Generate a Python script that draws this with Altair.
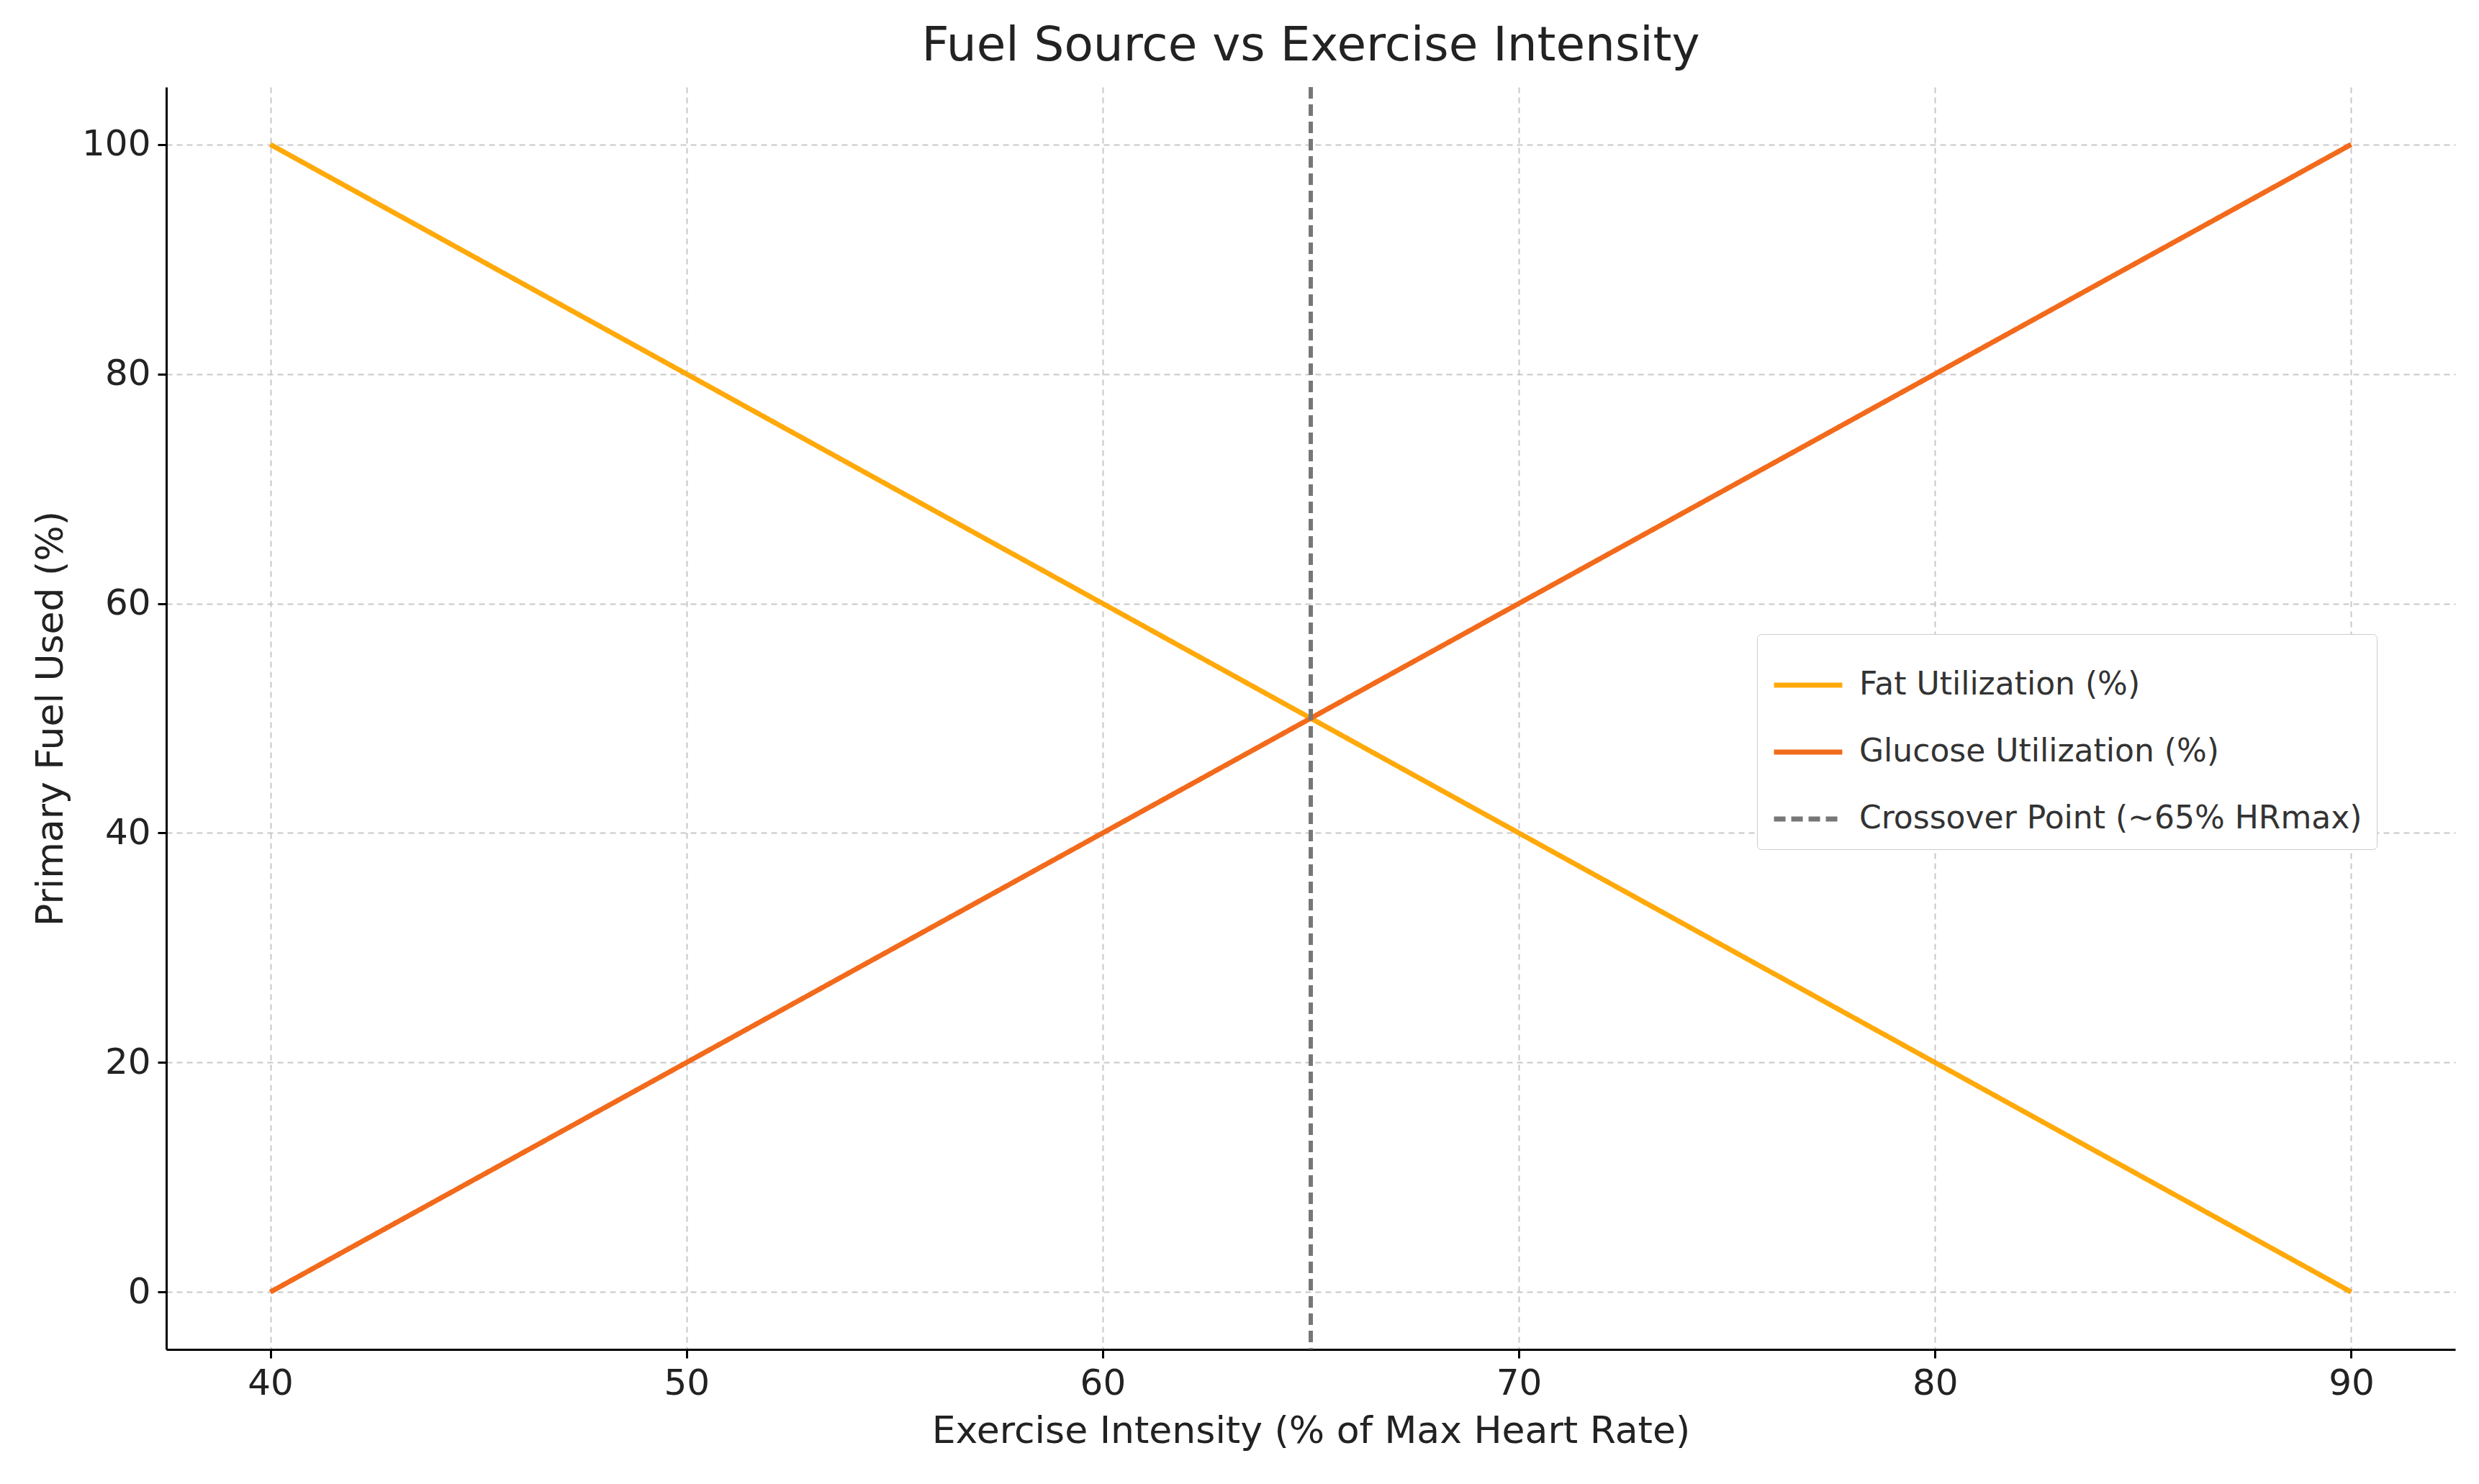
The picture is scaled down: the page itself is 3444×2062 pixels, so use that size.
import altair as alt
import pandas as pd

intensity = [40, 50, 60, 70, 80, 90]
fat = [100, 80, 60, 40, 20, 0]
glucose = [0, 20, 40, 60, 80, 100]
crossover = 65
names = ["Fat Utilization (%)", "Glucose Utilization (%)", "Crossover Point (~65% HRmax)"]
colors = ["#FFA90A", "#F26A1B", "#777777"]

rows = []
for x, f, g in zip(intensity, fat, glucose):
    rows.append({"x": x, "y": f, "series": names[0]})
    rows.append({"x": x, "y": g, "series": names[1]})
df = pd.DataFrame(rows)
rule_df = pd.DataFrame({"x": [crossover], "series": [names[2]]})

color = alt.Color("series:N", scale=alt.Scale(domain=names, range=colors), title=None,
                  legend=alt.Legend(orient="none", legendX=2210, legendY=760, symbolStrokeWidth=7,
                                    symbolSize=9000, symbolType="stroke", labelFontSize=44,
                                    labelFont="DejaVu Sans", labelColor="#333", padding=20,
                                    strokeColor="#ccc", fillColor="white", cornerRadius=6,
                                    rowPadding=20, labelLimit=1200, labelOffset=20))
dash = alt.StrokeDash("series:N", scale=alt.Scale(domain=names, range=[[1, 0], [1, 0], [16, 8]]), title=None)

xs = alt.X("x:Q", scale=alt.Scale(domain=[37.5, 92.5], nice=False, zero=False),
           axis=alt.Axis(values=[40, 50, 60, 70, 80, 90], format="d",
                         title="Exercise Intensity (% of Max Heart Rate)"))
ys = alt.Y("y:Q", scale=alt.Scale(domain=[-5, 105], nice=False),
           axis=alt.Axis(values=[0, 20, 40, 60, 80, 100], format="d", title="Primary Fuel Used (%)"))

lines = alt.Chart(df).mark_line(strokeWidth=7).encode(x=xs, y=ys, color=color, strokeDash=dash)
rule = alt.Chart(rule_df).mark_rule(strokeWidth=6).encode(x="x:Q", color=color, strokeDash=dash)

chart = alt.layer(lines, rule).properties(
    width=3180, height=1754,
    title=alt.TitleParams("Fuel Source vs Exercise Intensity", fontSize=66, font="DejaVu Sans",
                          fontWeight="normal", color="#222", offset=20),
    autosize=alt.AutoSizeParams(type="none"),
    padding={"left": 223, "top": 113, "right": 25, "bottom": 180},
).configure_axis(
    labelFontSize=50, titleFontSize=52, labelFont="DejaVu Sans", titleFont="DejaVu Sans",
    titleFontWeight="normal", labelColor="#222", titleColor="#222",
    gridDash=[8, 6], gridColor="#c8c8c8", gridWidth=2, domainColor="#000", domainWidth=3,
    tickColor="#000", tickWidth=3, tickSize=12, labelPadding=10, titlePadding=16
).configure_view(stroke=None)

chart.save("out.html", embed_options={"renderer": "svg", "actions": False})
